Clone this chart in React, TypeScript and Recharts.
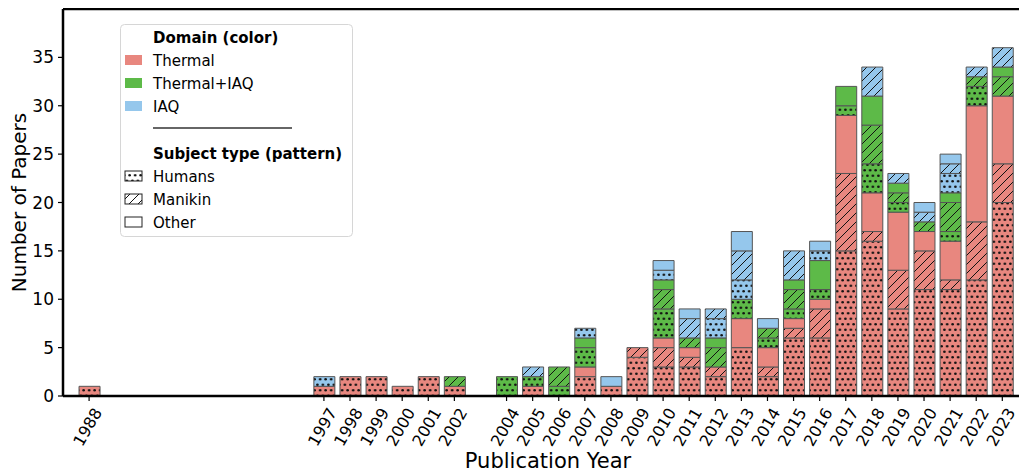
import React from "react";
import { BarChart, Bar, XAxis, YAxis, ReferenceLine } from "recharts";

// publication years present in the data (2003 has none)
const years = [
  1988, 1997, 1998, 1999, 2000, 2001, 2002, 2004, 2005, 2006, 2007, 2008, 2009,
  2010, 2011, 2012, 2013, 2014, 2015, 2016, 2017, 2018, 2019, 2020, 2021, 2022, 2023,
];

// Thermal
const thermalHumans = [1, 1, 2, 2, 1, 2, 1, 0, 1, 0, 2, 1, 4, 3, 3, 2, 5, 2, 6, 6, 15, 16, 9, 11, 11, 12, 20];
const thermalManikin = [0, 0, 0, 0, 0, 0, 0, 0, 0, 0, 0, 0, 1, 2, 1, 1, 0, 1, 1, 3, 8, 1, 4, 4, 1, 6, 4];
const thermalOther = [0, 0, 0, 0, 0, 0, 0, 0, 0, 0, 1, 0, 0, 1, 1, 0, 3, 2, 1, 1, 6, 4, 6, 2, 4, 12, 7];
// Thermal+IAQ
const mixHumans = [0, 0, 0, 0, 0, 0, 0, 2, 1, 1, 2, 0, 0, 3, 0, 0, 2, 1, 1, 1, 1, 3, 1, 0, 1, 2, 0];
const mixManikin = [0, 0, 0, 0, 0, 0, 1, 0, 0, 2, 0, 0, 0, 2, 1, 2, 0, 1, 2, 0, 0, 4, 1, 1, 3, 1, 2];
const mixOther = [0, 0, 0, 0, 0, 0, 0, 0, 0, 0, 1, 0, 0, 1, 0, 1, 0, 0, 1, 3, 2, 3, 1, 0, 1, 0, 1];
// IAQ
const iaqHumans = [0, 1, 0, 0, 0, 0, 0, 0, 0, 0, 1, 0, 0, 1, 0, 2, 2, 0, 0, 1, 0, 0, 0, 0, 2, 0, 0];
const iaqManikin = [0, 0, 0, 0, 0, 0, 0, 0, 1, 0, 0, 0, 0, 0, 2, 1, 3, 0, 3, 0, 0, 3, 1, 1, 1, 1, 2];
const iaqOther = [0, 0, 0, 0, 0, 0, 0, 0, 0, 0, 0, 1, 0, 1, 1, 0, 2, 1, 0, 1, 0, 0, 0, 1, 1, 0, 0];

const yTicks = [0, 5, 10, 15, 20, 25, 30, 35];

const domains = [
  { key: "thermal", label: "Thermal", color: "#e8877f" },
  { key: "mix", label: "Thermal+IAQ", color: "#5dba48" },
  { key: "iaq", label: "IAQ", color: "#95c7ec" },
];
const subjects = ["Humans", "Manikin", "Other"];

const chartData = years.map((year, i) => ({
  year,
  thermalHumans: thermalHumans[i],
  thermalManikin: thermalManikin[i],
  thermalOther: thermalOther[i],
  mixHumans: mixHumans[i],
  mixManikin: mixManikin[i],
  mixOther: mixOther[i],
  iaqHumans: iaqHumans[i],
  iaqManikin: iaqManikin[i],
  iaqOther: iaqOther[i],
}));

const font = "'DejaVu Sans', sans-serif";

function Patterns({ prefix, colors }: { prefix: string; colors: { key: string; color: string }[] }) {
  return (
    <defs>
      {colors.map((c) => (
        <React.Fragment key={c.key}>
          <pattern id={`${prefix}${c.key}Dots`} patternUnits="userSpaceOnUse" width={5.5} height={11}>
            <rect width={5.5} height={11} fill={c.color} />
            <circle cx={1.4} cy={2.75} r={1.3} fill="#111" />
            <circle cx={4.15} cy={8.25} r={1.3} fill="#111" />
          </pattern>
          <pattern id={`${prefix}${c.key}Hatch`} patternUnits="userSpaceOnUse" width={9} height={9}>
            <rect width={9} height={9} fill={c.color} />
            <path d="M0,9 L9,0 M-2,2 L2,-2 M7,11 L11,7" stroke="#111" strokeWidth={1} />
          </pattern>
        </React.Fragment>
      ))}
    </defs>
  );
}

const XTick = (props: any) => {
  const { x, y, payload } = props;
  return (
    <g transform={`translate(${x - 1.5},${y + 24})`}>
      <text
        transform="rotate(-60)"
        textAnchor="middle"
        dominantBaseline="central"
        fontSize={16}
        fontFamily={font}
        fill="#000"
      >
        {payload.value}
      </text>
    </g>
  );
};

function LegendBox() {
  const white = [{ key: "white", color: "#ffffff" }];
  const row = (cy: number) => cy + 5.5;
  return (
    <svg
      width={234}
      height={214}
      style={{ position: "absolute", left: 120, top: 24, fontFamily: font }}
    >
      <Patterns prefix="lg" colors={white} />
      <rect x={0.5} y={0.5} width={232} height={212} rx={4} fill="#fff" fillOpacity={0.85} stroke="#d6d6d6" />
      <text x={33} y={row(13)} fontSize={15} fontWeight="bold" fill="#000">
        Domain (color)
      </text>
      {domains.map((d, i) => (
        <g key={d.key}>
          <rect x={5} y={36 + i * 23 - 5} width={17} height={10} fill={d.color} />
          <text x={33} y={row(36 + i * 23)} fontSize={15} fill="#000">
            {d.label}
          </text>
        </g>
      ))}
      <line x1={33} x2={172} y1={104} y2={104} stroke="#333" strokeWidth={1.5} />
      <text x={33} y={row(129)} fontSize={15} fontWeight="bold" fill="#000">
        Subject type (pattern)
      </text>
      {subjects.map((s, i) => (
        <g key={s}>
          <rect
            x={5}
            y={152 + i * 23 - 5}
            width={17}
            height={10}
            fill={i === 0 ? "url(#lgwhiteDots)" : i === 1 ? "url(#lgwhiteHatch)" : "#fff"}
            stroke="#222"
            strokeWidth={1}
          />
          <text x={33} y={row(152 + i * 23)} fontSize={15} fill="#000">
            {s}
          </text>
        </g>
      ))}
    </svg>
  );
}

export default function App() {
  return (
    <div
      style={{
        position: "relative",
        width: 1011,
        height: 467,
        padding: "8px 0 0 8px",
        fontFamily: font,
      }}
    >
      <style>{"body{margin:0;overflow:hidden}"}</style>
      <BarChart
        width={1011}
        height={467}
        data={chartData}
        margin={{ top: 1, right: 0, bottom: 0, left: 0 }}
      >
        <Patterns prefix="" colors={domains} />
        <XAxis
          dataKey="year"
          type="number"
          domain={[1987, 2023.64]}
          ticks={years}
          interval={0}
          allowDataOverflow
          height={79}
          tick={<XTick />}
          tickSize={5}
          tickMargin={2}
          axisLine={{ stroke: "#000", strokeWidth: 2.5 }}
          tickLine={{ stroke: "#000", strokeWidth: 1.2 }}
          label={{
            value: "Publication Year",
            position: "insideBottom",
            offset: 7,
            dx: 7,
            fontSize: 21,
            fill: "#000",
          }}
        />
        <YAxis
          type="number"
          domain={[0, 40]}
          ticks={yTicks}
          allowDataOverflow
          width={55}
          tick={{ fill: "#000", fontSize: 17 }}
          tickSize={5}
          tickMargin={4}
          axisLine={{ stroke: "#000", strokeWidth: 2.5 }}
          tickLine={{ stroke: "#000", strokeWidth: 1.2 }}
          label={{
            value: "Number of Papers",
            angle: -90,
            position: "center",
            dx: -17,
            fontSize: 20,
            fill: "#000",
          }}
        />
        <ReferenceLine y={40} stroke="#000" strokeWidth={2.5} />
        {domains.map((d) =>
          subjects.map((s, j) => (
            <Bar
              key={d.key + s}
              dataKey={d.key + s}
              stackId="a"
              barSize={21}
              fill={j === 0 ? `url(#${d.key}Dots)` : j === 1 ? `url(#${d.key}Hatch)` : d.color}
              stroke="#555"
              strokeWidth={1}
              isAnimationActive={false}
            />
          ))
        )}
      </BarChart>
      <LegendBox />
    </div>
  );
}
